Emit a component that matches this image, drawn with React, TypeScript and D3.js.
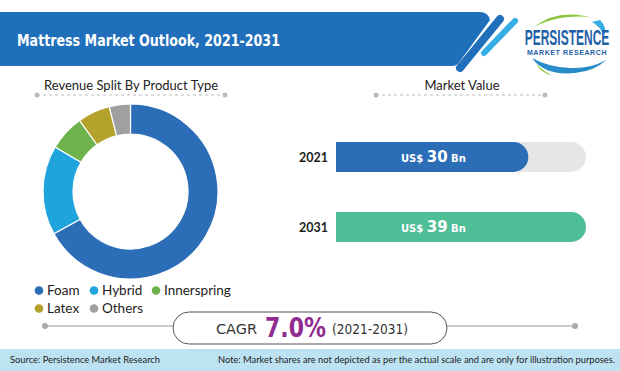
import React from "react";
import * as d3 from "d3";

const productTypes = ["Foam", "Hybrid", "Innerspring", "Latex", "Others"];
const productShares = [67, 16.5, 6.6, 6, 3.9];
const productColors = ["#2c6db7", "#1fa4de", "#6db24d", "#b5a22a", "#a0a0a0"];

const years = ["2021", "2031"];
const marketValues = [30, 39];
const barColors = ["#2c6db7", "#4dbe96"];
const valueMax = 39;

const cagrValue = "7.0%";

const W = 620;
const H = 371;

export default function App() {
  const cx = 130.5;
  const cy = 191.5;
  const pie = d3.pie<number>().sort(null).value((d) => d)(productShares);
  const arc = d3.arc<d3.PieArcDatum<number>>().innerRadius(57.5).outerRadius(87.5);

  const x = d3.scaleLinear().domain([0, valueMax]).range([0, 250]);
  const y = d3.scalePoint<string>().domain(years).range([157, 227]);
  const barH = 30;

  const barPath = (x0: number, y0: number, w: number, h: number) => {
    const r = h / 2;
    return `M${x0},${y0} H${x0 + w - r} A${r},${r} 0 0 1 ${x0 + w - r},${y0 + h} H${x0} Z`;
  };

  const legendRows = [
    [0, 1, 2],
    [3, 4],
  ];
  const legendX = [
    [39, 94, 156],
    [39, 94],
  ];
  const legendY = [295, 313];

  return (
    <svg width={W} height={H} style={{ position: "absolute", left: 0, top: 0 }} fontFamily="Lato, 'Open Sans', sans-serif">
      <rect width={W} height={H} fill="#ffffff" />
      {/* header banner */}
      <path d="M0,12 H480 Q488,12 490,20 L458,64 Q456,66 452,66 H0 Z" fill="#1f6fba" />
      <line x1={460} y1={68} x2={500} y2={19} stroke="#1f6fba" strokeWidth={8} strokeLinecap="round" />
      <line x1={484} y1={53} x2={515} y2={21} stroke="#35aee6" strokeWidth={6} strokeLinecap="round" />
      <text x={17} y={46} fill="#ffffff" fontSize={15} fontWeight={700} fontFamily="'DejaVu Sans', sans-serif" textLength={263} lengthAdjust="spacingAndGlyphs">
        Mattress Market Outlook, 2021-2031
      </text>
      {/* logo */}
      <path d="M534,27 Q560,6 600,20 Q585,14 560,18 Q545,21 534,27 Z" fill="#8cc63f" />
      <path d="M600,20 Q608,28 604,36 Q600,26 592,22 Z" fill="#35aee6" />
      <path d="M532,58 Q545,76 575,73 Q595,71 606,60 Q590,69 570,68 Q548,67 532,58 Z" fill="#2a8bc9" />
      <path d="M536,63 Q540,73 552,75 Q542,71 536,63 Z" fill="#8cc63f" />
      <g transform="translate(567,45) scale(1,1.8)">
        <text x={0} y={0} textAnchor="middle" fill="#1f5fa6" fontSize={12} fontWeight={700} fontFamily="'Liberation Sans', sans-serif">
          PERSISTENCE
        </text>
      </g>
      <text x={567} y={55} textAnchor="middle" fill="#1f5fa6" fontSize={7} fontWeight={700} fontFamily="'Liberation Sans', sans-serif" letterSpacing={0.6}>
        MARKET RESEARCH
      </text>

      {/* left title */}
      <text x={131} y={90} textAnchor="middle" fontSize={13} fill="#222">Revenue Split By Product Type</text>
      <line x1={37} y1={95} x2={225} y2={95} stroke="#bbb" strokeWidth={1} strokeDasharray="3,3" />
      <circle cx={37} cy={95} r={2.5} fill="#bbb" />
      <circle cx={225} cy={95} r={2.5} fill="#bbb" />

      <g transform={`translate(${cx},${cy})`}>
        {pie.map((p, i) => (
          <path key={productTypes[i]} d={arc(p) || ""} fill={productColors[i]} stroke="#fff" strokeWidth={1.2} />
        ))}
      </g>

      {legendRows.map((row, r) =>
        row.map((idx, k) => (
          <g key={productTypes[idx]}>
            <circle cx={legendX[r][k]} cy={legendY[r] - 4.5} r={4.3} fill={productColors[idx]} />
            <text x={legendX[r][k] + 8} y={legendY[r]} fontSize={13.5} fill="#222">{productTypes[idx]}</text>
          </g>
        ))
      )}

      {/* right title */}
      <text x={462} y={90} textAnchor="middle" fontSize={13} fill="#222">Market Value</text>
      <line x1={376} y1={95} x2={545} y2={95} stroke="#bbb" strokeWidth={1} strokeDasharray="3,3" />
      <circle cx={376} cy={95} r={2.5} fill="#bbb" />
      <circle cx={545} cy={95} r={2.5} fill="#bbb" />

      {years.map((yr, i) => {
        const yc = y(yr) as number;
        const y0 = yc - barH / 2;
        return (
          <g key={yr}>
            <path d={barPath(336, y0, x(valueMax), barH)} fill="#e6e6e6" />
            <path d={barPath(336, y0, x(marketValues[i]), barH)} fill={barColors[i]} />
            <text x={328} y={yc + 4.5} textAnchor="end" fontSize={12.5} fontWeight={700} fill="#222">{yr}</text>
            <text x={401} y={yc + 5} fill="#fff" fontFamily="'DejaVu Sans', sans-serif" fontWeight={700}>
              <tspan fontSize={10}>US$ </tspan>
              <tspan fontSize={15}>{marketValues[i]}</tspan>
              <tspan fontSize={10}> Bn</tspan>
            </text>
          </g>
        );
      })}

      {/* CAGR */}
      <line x1={45} y1={326} x2={173} y2={326} stroke="#999" strokeWidth={1} />
      <line x1={447} y1={326} x2={575} y2={326} stroke="#999" strokeWidth={1} />
      <circle cx={45} cy={326} r={3} fill="#aaa" />
      <circle cx={575} cy={326} r={3} fill="#aaa" />
      <rect x={173} y={312} width={274} height={32} rx={16} fill="#fff" stroke="#555" strokeWidth={1} />
      <text x={216} y={334} fontSize={14} fill="#333" fontFamily="'DejaVu Sans', sans-serif" textLength={41} lengthAdjust="spacingAndGlyphs">CAGR</text>
      <text x={265} y={337} fontSize={26} fontWeight={700} fill="#912b8f" fontFamily="'DejaVu Sans', sans-serif" textLength={61} lengthAdjust="spacingAndGlyphs">{cagrValue}</text>
      <text x={332} y={334} fontSize={14} fill="#333" fontFamily="'DejaVu Sans', sans-serif" textLength={76} lengthAdjust="spacingAndGlyphs">(2021-2031)</text>

      {/* footer */}
      <rect x={0} y={349} width={W} height={H - 349} fill="#bde3f3" />
      <text x={10} y={363} fontSize={9.3} fill="#222" textLength={150} lengthAdjust="spacingAndGlyphs">Source: Persistence Market Research</text>
      <text x={615} y={363} textAnchor="end" fontSize={9.3} fill="#222" textLength={397} lengthAdjust="spacingAndGlyphs">Note: Market shares are not depicted as per the actual scale and are only for illustration purposes.</text>
    </svg>
  );
}
